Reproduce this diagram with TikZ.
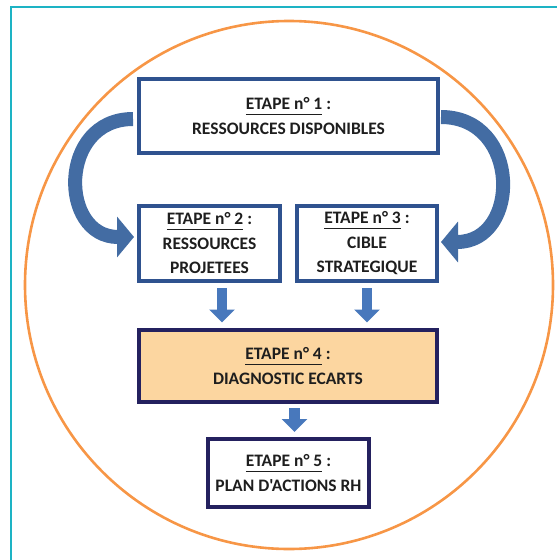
\documentclass[tikz,border=0pt]{standalone}
\usepackage{fontspec}
\newfontfamily\stepfont{Carlito}
\usepackage{tikz}
\usetikzlibrary{arrows.meta}

\definecolor{stepblue}{HTML}{2F528F}
\definecolor{stepnavy}{HTML}{24215F}
\definecolor{diagfill}{HTML}{FCD6A0}
\definecolor{arrowblue}{HTML}{4878BC}
\definecolor{bendblue}{HTML}{436CA3}
\definecolor{ringorange}{HTML}{F79646}
\definecolor{frameteal}{HTML}{1DB3C4}
\definecolor{steptext}{HTML}{1E1E1E}

\newcommand{\stepul}[1]{\setbox0=\hbox{#1}\rlap{\rule[-5.5pt]{\wd0}{1.4pt}}\box0\relax}

\tikzset{
	stepbox/.style={draw=stepblue, line width=4pt, fill=white, inner sep=0pt, align=center,
		text=steptext, font=\stepfont\bfseries\fontsize{17.5}{24.5}\selectfont},
	diagbox/.style={stepbox, draw=stepnavy, fill=diagfill},
	planbox/.style={stepbox, draw=stepnavy},
	blockarrow/.style={draw=arrowblue, line width=10.5pt, -{Triangle[width=25pt,length=13pt]}},
	bendarrow/.style={draw=bendblue, line width=14pt, -{Triangle[width=40pt,length=17pt]}}
}

\begin{document}
\begin{tikzpicture}[x=1pt, y=-1pt]
			\useasboundingbox (0, 0) rectangle (557, 560);
			\coordinate (ringcenter) at (289, 285);
			\draw[frameteal, line width=1.2pt] (11, 560) -- (11, 7) -- (557, 7);
			\draw[ringorange, line width=2.6pt] (ringcenter) circle (264);
			% the five steps
			\node[stepbox, minimum width=299pt, minimum height=74pt] (s1) at (288.5, 116) {\stepul{ETAPE n° 1} :\\RESSOURCES DISPONIBLES};
			\node[stepbox, minimum width=141pt, minimum height=75pt] (s2) at (209.5, 243.5) {\stepul{ETAPE n° 2} :\\RESSOURCES\\PROJETEES};
			\node[stepbox, minimum width=140pt, minimum height=75pt] (s3) at (367, 243.5) {\stepul{ETAPE n° 3} :\\CIBLE\\STRATEGIQUE};
			\node[diagbox, minimum width=298pt, minimum height=72pt] (s4) at (288, 366) {\stepul{ETAPE n° 4} :\\DIAGNOSTIC ECARTS};
			\node[planbox, minimum width=161pt, minimum height=68pt] (s5) at (288.5, 473) {\stepul{ETAPE n° 5} :\\PLAN D'ACTIONS RH};
			% curved arrows
			\draw[bendarrow] ([xshift=-4pt, yshift=-3pt]s1.west) .. controls +(-75, 0) and +(-75, 0) .. ([xshift=-3pt, yshift=6.5pt]s2.west);
			\draw[bendarrow] ([xshift=1pt, yshift=-1pt]s1.east) .. controls +(80, 0) and +(80, 0) .. ([xshift=2pt, yshift=1.5pt]s3.east);
			% down arrows
			\foreach \from/\to/\dx/\top/\tip in {s2/s4/12.5/-5/5.5, s3/s4/0/-5/5.5, s4/s5/6.5/-4/5}
			\draw[blockarrow] ([xshift=\dx pt, yshift=\top pt]\from.south) coordinate (t) -- ([yshift=\tip pt]t |- \to.north);
			%	\draw (ringcenter) node {$+$};
		\end{tikzpicture}
\end{document}
